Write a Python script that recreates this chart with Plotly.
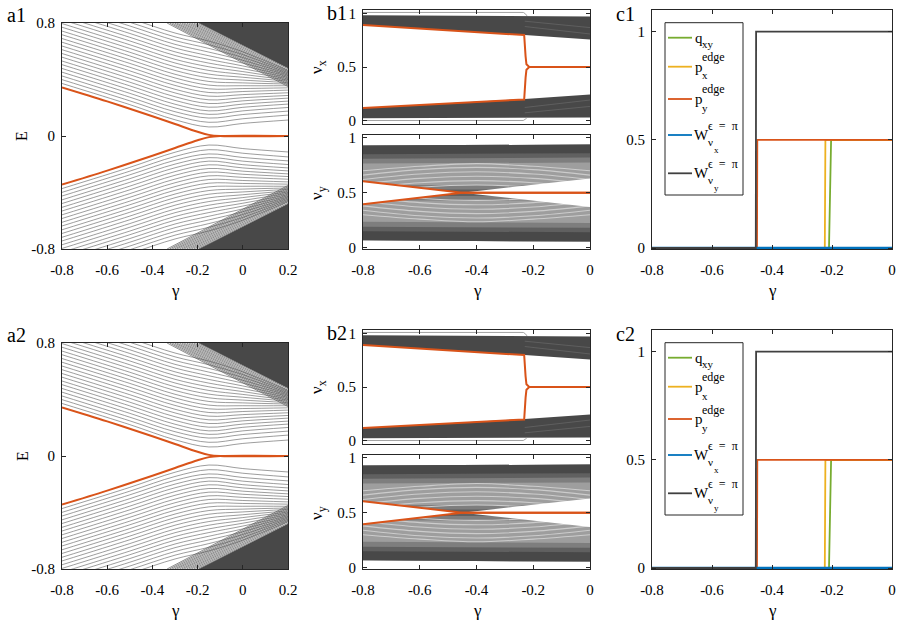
import plotly.graph_objects as go

FIG_W, FIG_H = 900, 621
FONT = "Liberation Serif"
AXIS_COLOR = "#262626"
ORANGE = "#D95319"
YELLOW = "#EDB120"
GREEN = "#77AC30"
BLUE = "#0072BD"
W_GRAY = "#404040"
LEVEL_GRAY = "#5a5a5a"
BULK_GRAY = "#484848"

PANEL_NAMES = [("a1", "b1", "c1"), ("a2", "b2", "c2")]
ROW_SHIFT = [0, 320]  # px, second row sits 320 px below the first

A_XTICKS = [-0.8, -0.6, -0.4, -0.2, 0, 0.2]
A_YTICKS = [-0.8, 0, 0.8]
B_XTICKS = [-0.8, -0.6, -0.4, -0.2, 0]
B_YTICKS = [0, 0.5, 1]
C_XTICKS = [-0.8, -0.6, -0.4, -0.2, 0]
C_YTICKS = [0, 0.5, 1]

# --- a) spectrum E(gamma), upper half (lower half is the mirror image) ---
A_GAMMA = [-0.8, -0.5, -0.3, -0.15, 0.0, 0.2]
A_LEVELS = [
    [0.372, 0.222, 0.115, 0.064, 0.089, 0.113],
    [0.399, 0.249, 0.145, 0.097, 0.122, 0.148],
    [0.425, 0.275, 0.172, 0.127, 0.152, 0.176],
    [0.452, 0.302, 0.199, 0.153, 0.178, 0.202],
    [0.478, 0.328, 0.225, 0.178, 0.203, 0.226],
    [0.505, 0.355, 0.252, 0.204, 0.226, 0.247],
    [0.531, 0.381, 0.278, 0.230, 0.249, 0.268],
    [0.558, 0.408, 0.305, 0.256, 0.271, 0.287],
    [0.584, 0.434, 0.331, 0.282, 0.293, 0.306],
    [0.611, 0.461, 0.358, 0.308, 0.315, 0.325],
    [0.637, 0.487, 0.384, 0.334, 0.336, 0.341],
    [0.664, 0.514, 0.411, 0.360, 0.356, 0.356],
    [0.690, 0.540, 0.437, 0.386, 0.376, 0.368],
    [0.717, 0.567, 0.464, 0.412, 0.396, 0.378],
    [0.743, 0.593, 0.490, 0.438, 0.416, 0.388],
    [0.770, 0.620, 0.517, 0.464, 0.436, 0.397],
    [0.796, 0.646, 0.543, 0.490, 0.456, 0.406],
    [0.823, 0.673, 0.570, 0.516, 0.476, 0.415],
    [0.849, 0.699, 0.596, 0.542, 0.496, 0.424],
    [0.876, 0.726, 0.623, 0.568, 0.516, 0.432],
    [0.902, 0.752, 0.649, 0.594, 0.536, 0.440],
    [0.929, 0.779, 0.676, 0.620, 0.556, 0.448],
    [0.955, 0.805, 0.702, 0.646, 0.576, 0.456],
    [0.982, 0.832, 0.729, 0.672, 0.596, 0.464],
]
A_EDGE_GAMMA = [-0.8, -0.6, -0.4, -0.3, -0.2, -0.15, -0.1, 0.2]
A_EDGE_E = [0.344, 0.245, 0.140, 0.085, 0.030, 0.008, 0.0, 0.0]
# diagonal bulk levels: gamma where they leave E = 0.8, and their E at gamma = 0.2
A_DIAG_TOP = [-0.335, -0.324, -0.313, -0.302, -0.292, -0.281, -0.270,
              -0.260, -0.249, -0.238, -0.228, -0.217, -0.206, -0.196]
A_DIAG_END = [0.350, 0.360, 0.369, 0.379, 0.388, 0.398, 0.408,
              0.417, 0.427, 0.436, 0.446, 0.456, 0.465, 0.475]
A_BULK_GAMMA = [-0.194, 0.2, 0.2]
A_BULK_E = [0.8, 0.8, 0.48]

# --- b) Wannier bands nu_x (top) and nu_y (bottom) ---
BX_BAND_X = [-0.8, 0.0, 0.0, -0.23, -0.8]
BX_BAND_UP = [0.985, 0.975, 0.757, 0.800, 0.895]
BX_BAND_LO = [0.020, 0.025, 0.243, 0.200, 0.115]
BX_STREAK_X = [-0.23, 0.0]
BX_STREAKS = [[0.93, 0.87], [0.88, 0.81], [0.07, 0.13], [0.12, 0.19]]
BX_THIN_X = [-0.8, -0.235, -0.228, -0.222]
BX_THIN_UP = [1.012, 1.012, 1.0, 0.98]
BX_THIN_LO = [-0.002, -0.002, 0.01, 0.025]
BX_EDGE_X = [-0.8, -0.232, -0.227, -0.224, -0.214, 0.0]
BX_EDGE_UP = [0.895, 0.800, 0.600, 0.525, 0.500, 0.500]
BX_EDGE_LO = [0.115, 0.195, 0.400, 0.475, 0.500, 0.500]

BY_BOX_X = [-0.8, 0.0, 0.0, -0.8]
BY_OUTER = [0.067, 0.055, 0.938, 0.930]
BY_DARK_UP = [0.850, 0.860, 0.938, 0.930]
BY_DARK_LO = [0.067, 0.055, 0.140, 0.150]
BY_MID_UP = [0.530, 0.530, 0.820, 0.810]
BY_MID_LO = [0.190, 0.180, 0.470, 0.470]
BY_LIGHT_UP = [0.570, 0.570, 0.775, 0.765]
BY_LIGHT_LO = [0.235, 0.225, 0.430, 0.430]
BY_ARC_X = [-0.8, -0.6, -0.4, -0.2, 0.0]
BY_ARCS = [
    [0.50, 0.55, 0.57, 0.55, 0.50],
    [0.54, 0.59, 0.61, 0.59, 0.54],
    [0.58, 0.63, 0.65, 0.63, 0.58],
    [0.62, 0.67, 0.69, 0.67, 0.62],
    [0.66, 0.71, 0.73, 0.71, 0.66],
    [0.70, 0.74, 0.765, 0.74, 0.70],
    [0.50, 0.45, 0.43, 0.45, 0.50],
    [0.46, 0.41, 0.39, 0.41, 0.46],
    [0.42, 0.37, 0.35, 0.37, 0.42],
    [0.38, 0.33, 0.31, 0.33, 0.38],
    [0.34, 0.29, 0.27, 0.29, 0.34],
    [0.30, 0.26, 0.235, 0.26, 0.30],
]
BY_GAP_X = [-0.8, -0.45, 0.0, 0.0, -0.45, -0.8]
BY_GAP_Y = [0.605, 0.5, 0.63, 0.37, 0.5, 0.395]
BY_EDGE_X = [-0.8, -0.45, 0.0]
BY_EDGE_UP = [0.605, 0.5, 0.5]
BY_EDGE_LO = [0.395, 0.5, 0.5]

# --- c) invariants ---
C_QXY_X = [-0.8, -0.21, -0.203, 0.0]
C_QXY = [0, 0, 0.5, 0.5]
C_PX_X = [-0.8, -0.224, -0.222, 0.0]
C_PX = [0, 0, 0.5, 0.5]
C_PY_X = [-0.8, -0.45, -0.449, 0.0]
C_PY = [0, 0, 0.5, 0.5]
C_WX_X = [-0.8, 0.0]
C_WX = [0, 0]
C_WY_X = [-0.8, -0.454, -0.453, 0.0]
C_WY = [0, 0, 1, 1]

fig = go.Figure()
layout = {}
annotations = []
shapes = []


def to_x(p):
    return p / FIG_W


def to_y(p):
    return 1 - p / FIG_H


def tick_text(t):
    return "0" if t == 0 else f"{t:g}"


def axes(n, x0, x1, y0, y1, xrange, yrange, xticks, yticks, xlabels=True):
    ref = "" if n == 1 else str(n)
    common = dict(
        showline=True,
        linecolor=AXIS_COLOR,
        linewidth=1,
        mirror="allticks",
        ticks="inside",
        ticklen=4,
        tickcolor=AXIS_COLOR,
        showgrid=False,
        zeroline=False,
        automargin=False,
        tickfont=dict(family=FONT, size=15, color="black"),
        fixedrange=True,
    )
    layout["xaxis" + ref] = dict(
        domain=[to_x(x0), to_x(x1)],
        range=xrange,
        anchor="y" + ref,
        tickvals=xticks,
        ticktext=[tick_text(t) for t in xticks],
        showticklabels=xlabels,
        ticklabelstandoff=7,
        **common,
    )
    layout["yaxis" + ref] = dict(
        domain=[to_y(y1), to_y(y0)],
        range=yrange,
        anchor="x" + ref,
        tickvals=yticks,
        ticktext=[tick_text(t) for t in yticks],
        ticklabelstandoff=3,
        **common,
    )
    return ref


def curve(ax, x, y, color, width, shape="linear"):
    fig.add_trace(
        go.Scatter(
            x=x, y=y, xaxis="x" + ax, yaxis="y" + ax, mode="lines",
            line=dict(color=color, width=width, shape=shape),
            hoverinfo="skip", showlegend=False,
        )
    )


def patch(ax, x, y, color):
    fig.add_trace(
        go.Scatter(
            x=x, y=y, xaxis="x" + ax, yaxis="y" + ax, mode="lines",
            fill="toself", fillcolor=color, line=dict(color=color, width=0),
            hoverinfo="skip", showlegend=False,
        )
    )


def label(px, py, text, size, angle=0, anchor="center"):
    annotations.append(
        dict(
            x=to_x(px), y=to_y(py), xref="paper", yref="paper", text=text,
            showarrow=False, textangle=angle, xanchor=anchor, yanchor="middle",
            borderpad=0, font=dict(family=FONT, size=size, color="black"),
        )
    )


for row, (names, dy) in enumerate(zip(PANEL_NAMES, ROW_SHIFT)):
    base = 4 * row
    a = axes(base + 1, 62, 288, 23 + dy, 249 + dy, [-0.8, 0.2], [-0.8, 0.8], A_XTICKS, A_YTICKS)
    bx = axes(base + 2, 363, 590, 10 + dy, 124 + dy, [-0.8, 0], [-0.035, 1.035],
              B_XTICKS, B_YTICKS, xlabels=False)
    by = axes(base + 3, 363, 590, 135 + dy, 249.3 + dy, [-0.8, 0], [-0.015, 1.025], B_XTICKS, B_YTICKS)
    c = axes(base + 4, 652, 892, 10 + dy, 249.3 + dy, [-0.8, 0], [-0.006, 1.1], C_XTICKS, C_YTICKS)

    # a: levels, bulk, edge states
    for sign in (1, -1):
        for lv in A_LEVELS:
            curve(a, A_GAMMA, [sign * e for e in lv], LEVEL_GRAY, 0.6, "spline")
        for g0, e1 in zip(A_DIAG_TOP, A_DIAG_END):
            curve(a, [g0, 0.2], [sign * 0.8, sign * e1], LEVEL_GRAY, 0.7)
        patch(a, A_BULK_GAMMA, [sign * e for e in A_BULK_E], BULK_GRAY)
    for sign in (1, -1):
        curve(a, A_EDGE_GAMMA, [sign * e for e in A_EDGE_E], ORANGE, 2, "spline")

    # b top: nu_x
    patch(bx, BX_BAND_X, BX_BAND_UP, BULK_GRAY)
    patch(bx, BX_BAND_X, BX_BAND_LO, BULK_GRAY)
    for ys in BX_STREAKS:
        curve(bx, BX_STREAK_X, ys, "#5f5f5f", 1)
    curve(bx, BX_THIN_X, BX_THIN_UP, "#8a8a8a", 0.8)
    curve(bx, BX_THIN_X, BX_THIN_LO, "#8a8a8a", 0.8)
    curve(bx, BX_EDGE_X, BX_EDGE_UP, ORANGE, 2)
    curve(bx, BX_EDGE_X, BX_EDGE_LO, ORANGE, 2)

    # b bottom: nu_y
    patch(by, BY_BOX_X, BY_OUTER, "#606060")
    patch(by, BY_BOX_X, BY_DARK_UP, BULK_GRAY)
    patch(by, BY_BOX_X, BY_DARK_LO, BULK_GRAY)
    patch(by, BY_BOX_X, BY_MID_UP, "#7e7e7e")
    patch(by, BY_BOX_X, BY_MID_LO, "#7e7e7e")
    patch(by, BY_BOX_X, BY_LIGHT_UP, "#9e9e9e")
    patch(by, BY_BOX_X, BY_LIGHT_LO, "#9e9e9e")
    for arc in BY_ARCS:
        curve(by, BY_ARC_X, arc, "#cccccc", 1.1, "spline")
    patch(by, BY_GAP_X, BY_GAP_Y, "white")
    curve(by, BY_EDGE_X, BY_EDGE_UP, ORANGE, 2)
    curve(by, BY_EDGE_X, BY_EDGE_LO, ORANGE, 2)

    # c: invariants (MATLAB draw order)
    curve(c, C_QXY_X, C_QXY, GREEN, 1.8)
    curve(c, C_PX_X, C_PX, YELLOW, 1.8)
    curve(c, C_PY_X, C_PY, ORANGE, 1.8)
    curve(c, C_WX_X, C_WX, BLUE, 2.5)
    curve(c, C_WY_X, C_WY, W_GRAY, 1.8)

    # hand-built legend (stacked sub/superscripts)
    shapes.append(dict(
        type="rect", xref="paper", yref="paper", x0=to_x(665), x1=to_x(743),
        y0=to_y(195 + dy), y1=to_y(22.7 + dy), line=dict(color=AXIS_COLOR, width=1),
        fillcolor="white", layer="above",
    ))
    for py, color in zip([37.7, 66.7, 99, 135, 173.3], [GREEN, YELLOW, ORANGE, BLUE, W_GRAY]):
        shapes.append(dict(
            type="line", xref="paper", yref="paper", x0=to_x(668), x1=to_x(692),
            y0=to_y(py + dy), y1=to_y(py + dy), line=dict(color=color, width=1.8), layer="above",
        ))
    label(694, 38 + dy, "q", 15, anchor="left")
    label(701, 44 + dy, "xy", 11, anchor="left")
    label(694, 66.7 + dy, "p", 15, anchor="left")
    label(701, 57 + dy, "edge", 12, anchor="left")
    label(701, 75.5 + dy, "x", 11, anchor="left")
    label(694, 99 + dy, "p", 15, anchor="left")
    label(701, 89.5 + dy, "edge", 12, anchor="left")
    label(701, 108 + dy, "y", 11, anchor="left")
    for py, sub in [(135, "x"), (173.3, "y")]:
        label(693, py + dy, "W", 15, anchor="left")
        label(707, py - 9.5 + dy, "ϵ\u2002=\u2002π", 12, anchor="left")
        label(707, py + 7 + dy, "ν", 11, anchor="left")
        label(712.5, py + 15 + dy, sub, 9, anchor="left")

    # panel letters and axis titles
    label(16, 15 + dy, names[0], 20)
    label(337, 13 + dy, names[1], 20)
    label(625, 14 + dy, names[2], 20)
    label(22, 136 + dy, "E", 16, angle=-90)
    label(318, 67 + dy, "ν<sub>x</sub>", 17, angle=-90)
    label(318, 193 + dy, "ν<sub>y</sub>", 17, angle=-90)
    for px in (175, 477, 772):
        label(px, 290 + dy, "γ", 17)

fig.update_layout(
    width=FIG_W,
    height=FIG_H,
    margin=dict(l=0, r=0, t=0, b=0),
    plot_bgcolor="white",
    paper_bgcolor="white",
    showlegend=False,
    annotations=annotations,
    shapes=shapes,
    **layout,
)

# the page's default body margin would push the figure 8 px down and right
fig.write_html(
    "out.html",
    config={"displayModeBar": False},
    post_script="document.body.style.margin = '0px';",
)
